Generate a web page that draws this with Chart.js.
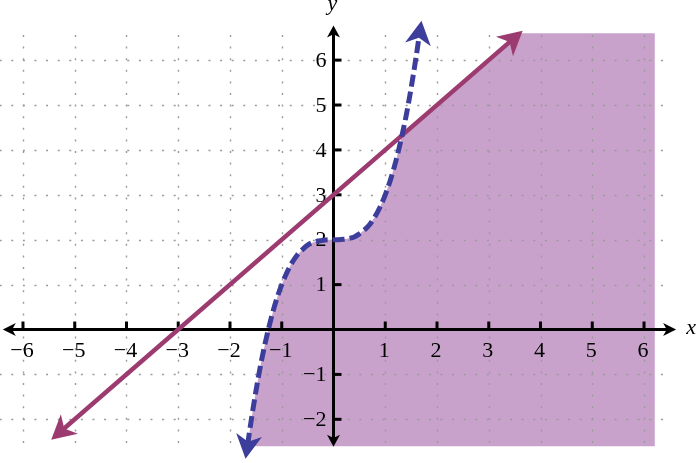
<!DOCTYPE html>
<html>
<head>
<meta charset="utf-8">
<script src="https://cdn.jsdelivr.net/npm/chart.js@4.4.1/dist/chart.umd.min.js"></script>
<style>
html,body{margin:0;padding:0;background:#fff;}
canvas{display:block;}
</style>
</head>
<body>
<canvas id="c" width="698" height="463"></canvas>
<script>
// ---- data ----
const xTicks = [-6, -5, -4, -3, -2, -1, 1, 2, 3, 4, 5, 6];
const yTicks = [-2, -1, 1, 2, 3, 4, 5, 6];
const xTickLabels = ['\u22126', '\u22125', '\u22124', '\u22123', '\u22122', '\u22121', '1', '2', '3', '4', '5', '6'];
const yTickLabels = ['\u22122', '\u22121', '1', '2', '3', '4', '5', '6'];

// dashed curve (blue)
const curveX = [-1.66,-1.6,-1.5,-1.4,-1.3,-1.2,-1.1,-1.0,-0.9,-0.8,-0.7,-0.6,-0.5,-0.4,-0.3,-0.2,-0.1,0,0.1,0.2,0.3,0.4,0.5,0.6,0.7,0.8,0.9,1.0,1.1,1.2,1.3,1.4,1.5,1.6,1.66];
const curveY = [-2.57,-2.10,-1.38,-0.74,-0.20,0.27,0.67,1.00,1.27,1.49,1.66,1.78,1.88,1.94,1.97,1.99,2.00,2.00,2.00,2.01,2.03,2.06,2.13,2.22,2.34,2.51,2.73,3.00,3.33,3.73,4.20,4.74,5.38,6.10,6.57];

// solid line (purple)
const lineX = [-5.25, 3.45];
const lineY = [-2.25, 6.45];

// shaded region: top boundary, filled down to shadeBottom
const shadeX = [-1.66,-1.6,-1.5,-1.4,-1.3,-1.2,-1.1,-1.0,-0.9,-0.8,-0.7,-0.6,-0.5,-0.4,-0.3,-0.2,-0.1,0,0.1,0.2,0.3,0.4,0.5,0.6,0.7,0.8,0.9,1.0,1.1,1.2,1.3,1.325,3.6,6.21];
const shadeY = [-2.6,-2.10,-1.38,-0.74,-0.20,0.27,0.67,1.00,1.27,1.49,1.66,1.78,1.88,1.94,1.97,1.99,2.00,2.00,2.00,2.01,2.03,2.06,2.13,2.22,2.34,2.51,2.73,3.00,3.33,3.73,4.20,4.33,6.6,6.6];
const shadeBottom = -2.6;

// axis and grid extents
const xAxisRange = [-6.39, 6.62];
const yAxisRange = [-2.61, 6.77];
const gridXRange = [-6.45, 6.45];
const gridYRange = [-2.57, 6.56];

const toPts = (xs, ys) => xs.map((x, i) => ({x: x, y: ys[i]}));

const COL_LINE = '#9c3b6f';
const COL_CURVE = '#3d3d9b';
const COL_FILL = '#c9a2cc';
const FONT = "'Liberation Serif', 'Times New Roman', serif";

function arrowHead(ctx, tx, ty, ux, uy, len, half, color) {
  const px = -uy, py = ux;
  const bx = tx - ux * len, by = ty - uy * len;
  ctx.save();
  ctx.fillStyle = color;
  ctx.beginPath();
  ctx.moveTo(tx, ty);
  ctx.lineTo(bx + px * half, by + py * half);
  ctx.lineTo(tx - ux * len * 0.72, ty - uy * len * 0.72);
  ctx.lineTo(bx - px * half, by - py * half);
  ctx.closePath();
  ctx.fill();
  ctx.restore();
}

function endArrows(chart, dsIndex, color, ext, len, half) {
  const meta = chart.getDatasetMeta(dsIndex);
  const pts = meta.data;
  const n = pts.length;
  const ends = [[pts[n - 1], pts[n - 2]], [pts[0], pts[1]]];
  const ctx = chart.ctx;
  ends.forEach(([a, b]) => {
    let dx = a.x - b.x, dy = a.y - b.y;
    const d = Math.hypot(dx, dy);
    dx /= d; dy /= d;
    arrowHead(ctx, a.x + dx * ext, a.y + dy * ext, dx, dy, len, half, color);
  });
}

const decor = {
  id: 'decor',
  afterDatasetDraw(chart, args) {
    if (args.index !== 0) return;
    const ctx = chart.ctx;
    const xs = chart.scales.x, ys = chart.scales.y;
    const x0 = xs.getPixelForValue(0), y0 = ys.getPixelForValue(0);
    ctx.save();
    // dotted grid
    ctx.strokeStyle = '#9a9a9a';
    ctx.lineWidth = 1.4;
    ctx.setLineDash([2, 9.6]);
    const gl = xs.getPixelForValue(gridXRange[0]), gr = xs.getPixelForValue(gridXRange[1]);
    const gt = ys.getPixelForValue(gridYRange[1]), gb = ys.getPixelForValue(gridYRange[0]);
    xTicks.forEach(v => {
      const p = Math.round(xs.getPixelForValue(v)) + 0.5;
      ctx.beginPath(); ctx.moveTo(p, gt); ctx.lineTo(p, gb); ctx.stroke();
    });
    yTicks.forEach(v => {
      const p = Math.round(ys.getPixelForValue(v)) + 0.5;
      ctx.beginPath(); ctx.moveTo(gl, p); ctx.lineTo(gr, p); ctx.stroke();
    });
    ctx.setLineDash([]);
    // axes
    ctx.strokeStyle = '#000';
    ctx.lineWidth = 3;
    const axL = xs.getPixelForValue(xAxisRange[0]), axR = xs.getPixelForValue(xAxisRange[1]);
    const ayT = ys.getPixelForValue(yAxisRange[1]), ayB = ys.getPixelForValue(yAxisRange[0]);
    ctx.beginPath(); ctx.moveTo(axL + 6, y0); ctx.lineTo(axR - 6, y0); ctx.stroke();
    ctx.beginPath(); ctx.moveTo(x0, ayT + 6); ctx.lineTo(x0, ayB - 6); ctx.stroke();
    arrowHead(ctx, axL, y0, -1, 0, 13, 6.5, '#000');
    arrowHead(ctx, axR, y0, 1, 0, 13, 6.5, '#000');
    arrowHead(ctx, x0, ayT, 0, -1, 12, 6.5, '#000');
    arrowHead(ctx, x0, ayB, 0, 1, 12, 6.5, '#000');
    // tick marks
    ctx.lineWidth = 3;
    xTicks.forEach(v => {
      const p = xs.getPixelForValue(v);
      ctx.beginPath(); ctx.moveTo(p, y0); ctx.lineTo(p, y0 - 8); ctx.stroke();
    });
    yTicks.forEach(v => {
      const p = ys.getPixelForValue(v);
      ctx.beginPath(); ctx.moveTo(x0, p); ctx.lineTo(x0 + 8, p); ctx.stroke();
    });
    // tick labels
    ctx.fillStyle = '#000';
    ctx.font = '22px ' + FONT;
    ctx.textAlign = 'center';
    ctx.textBaseline = 'top';
    xTicks.forEach((v, i) => {
      ctx.fillText(xTickLabels[i], xs.getPixelForValue(v) - 1, y0 + 11);
    });
    ctx.textAlign = 'right';
    ctx.textBaseline = 'middle';
    yTicks.forEach((v, i) => {
      ctx.fillText(yTickLabels[i], x0 - 7, ys.getPixelForValue(v) + 1);
    });
    // axis titles
    ctx.font = 'italic 22px ' + FONT;
    ctx.textAlign = 'center';
    ctx.textBaseline = 'middle';
    ctx.fillText('x', axR + 15, y0 - 1);
    ctx.textBaseline = 'alphabetic';
    ctx.fillText('y', x0 - 1, 10);
    ctx.restore();
  },
  afterDatasetsDraw(chart) {
    endArrows(chart, 2, COL_LINE, 14, 24, 13);
    endArrows(chart, 1, COL_CURVE, 14, 24, 13);
  }
};

new Chart(document.getElementById('c'), {
  type: 'scatter',
  data: {
    datasets: [
      {
        data: toPts(shadeX, shadeY),
        showLine: true,
        borderWidth: 0,
        borderColor: 'rgba(0,0,0,0)',
        backgroundColor: COL_FILL,
        pointRadius: 0,
        tension: 0,
        fill: {value: shadeBottom},
        order: 3,
        clip: false
      },
      {
        data: toPts(curveX, curveY),
        showLine: true,
        borderColor: COL_CURVE,
        borderWidth: 5,
        borderDash: [12, 5],
        borderCapStyle: 'butt',
        cubicInterpolationMode: 'monotone',
        pointRadius: 0,
        fill: false,
        order: 1,
        clip: false
      },
      {
        data: toPts(lineX, lineY),
        showLine: true,
        borderColor: COL_LINE,
        borderWidth: 4.5,
        pointRadius: 0,
        fill: false,
        order: 2,
        clip: false
      }
    ]
  },
  options: {
    responsive: false,
    animation: false,
    layout: {padding: 0},
    plugins: {legend: {display: false}, tooltip: {enabled: false}},
    scales: {
      x: {type: 'linear', min: -6.444, max: 7.043, display: false},
      y: {type: 'linear', min: -2.973, max: 7.339, display: false}
    }
  },
  plugins: [decor]
});
</script>
</body>
</html>
